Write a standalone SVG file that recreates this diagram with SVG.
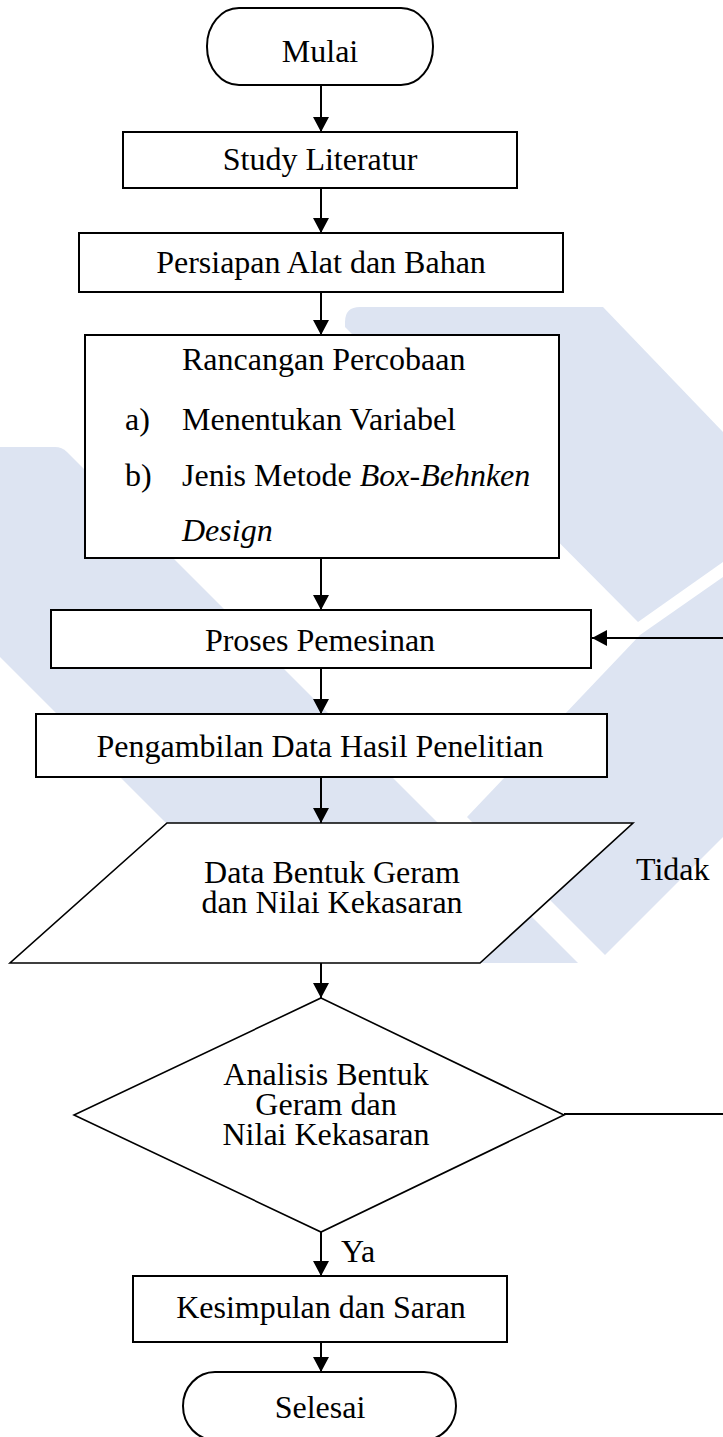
<svg xmlns="http://www.w3.org/2000/svg" width="723" height="1437" viewBox="0 0 723 1437">
<style>
.wm{fill:#dde4f2;stroke:none}
.box{fill:#fff;stroke:#000;stroke-width:2}
.shape{fill:#fff;stroke:#000;stroke-width:1.6}
.t{font-family:"Liberation Serif","Times New Roman",serif;font-size:32px;fill:#000}
.c{text-anchor:middle}
.i{font-style:italic}
.ln{fill:none;stroke:#000;stroke-width:2}
</style>
<defs>
<marker id="ah" markerUnits="userSpaceOnUse" markerWidth="15" markerHeight="16" refX="15" refY="8" orient="auto">
<path d="M0,0 L15,8 L0,16 Z" fill="#000"/>
</marker>
</defs>
<rect width="723" height="1437" fill="#fff"/>
<g id="watermark">
<path class="wm" d="M360,307 H603 L723,432 V562 L638,622 L345,327 V322 Q345,307 360,307 Z"/>
<path class="wm" d="M0,447 H55 Q62,447 67,452 L578,963 H306 L0,657 Z"/>
<path class="wm" d="M640,635 L723,577 V837 L605,955 L467,817 Z"/>
</g>
<g id="connectors">
<line class="ln" x1="321" y1="85" x2="321" y2="132" marker-end="url(#ah)"/>
<line class="ln" x1="321" y1="188" x2="321" y2="233" marker-end="url(#ah)"/>
<line class="ln" x1="321" y1="292" x2="321" y2="335" marker-end="url(#ah)"/>
<line class="ln" x1="321" y1="558" x2="321" y2="610" marker-end="url(#ah)"/>
<line class="ln" x1="321" y1="668" x2="321" y2="714" marker-end="url(#ah)"/>
<line class="ln" x1="321" y1="777" x2="321" y2="823" marker-end="url(#ah)"/>
<line class="ln" x1="321" y1="963" x2="321" y2="998" marker-end="url(#ah)"/>
<line class="ln" x1="321" y1="1232" x2="321" y2="1276" marker-end="url(#ah)"/>
<line class="ln" x1="321" y1="1342" x2="321" y2="1372" marker-end="url(#ah)"/>
<path class="ln" d="M564,1114 H730 V638 H592" marker-end="url(#ah)"/>
<text class="t" x="341" y="1262">Ya</text>
<text class="t" x="636" y="880">Tidak</text>
</g>
<g id="mulai">
<rect class="box" x="207" y="8" width="226" height="77" rx="32" ry="38"/>
<text class="t c" x="320" y="62">Mulai</text>
</g>
<g id="study">
<rect class="box" x="123" y="132" width="394" height="56"/>
<text class="t c" x="320" y="170">Study Literatur</text>
</g>
<g id="persiapan">
<rect class="box" x="79" y="233" width="484" height="59"/>
<text class="t c" x="321" y="273">Persiapan Alat dan Bahan</text>
</g>
<g id="rancangan">
<rect class="box" x="85" y="335" width="474" height="223"/>
<text class="t" x="182" y="370">Rancangan Percobaan</text>
<text class="t" x="125" y="430">a)</text>
<text class="t" x="182" y="430">Menentukan Variabel</text>
<text class="t" x="125" y="486">b)</text>
<text class="t" x="182" y="486">Jenis Metode <tspan class="i">Box-Behnken</tspan></text>
<text class="t i" x="182" y="541">Design</text>
</g>
<g id="proses">
<rect class="box" x="51" y="610" width="540" height="58"/>
<text class="t c" x="320" y="651">Proses Pemesinan</text>
</g>
<g id="pengambilan">
<rect class="box" x="36" y="714" width="571" height="63"/>
<text class="t c" x="320" y="757">Pengambilan Data Hasil Penelitian</text>
</g>
<g id="data">
<polygon class="shape" points="167,823 633,823 480,963 10,963"/>
<text class="t c" x="332" y="883">Data Bentuk Geram</text>
<text class="t c" x="332" y="913">dan Nilai Kekasaran</text>
</g>
<g id="analisis">
<polygon class="shape" points="321,998 564,1115 321,1232 74,1115"/>
<text class="t c" x="326" y="1085">Analisis Bentuk</text>
<text class="t c" x="326" y="1115">Geram dan</text>
<text class="t c" x="326" y="1145">Nilai Kekasaran</text>
</g>
<g id="kesimpulan">
<rect class="box" x="133" y="1276" width="374" height="66"/>
<text class="t c" x="321" y="1318">Kesimpulan dan Saran</text>
</g>
<g id="selesai">
<rect class="box" x="183" y="1372" width="273" height="68" rx="32" ry="34"/>
<text class="t c" x="320" y="1418">Selesai</text>
</g>
</svg>
